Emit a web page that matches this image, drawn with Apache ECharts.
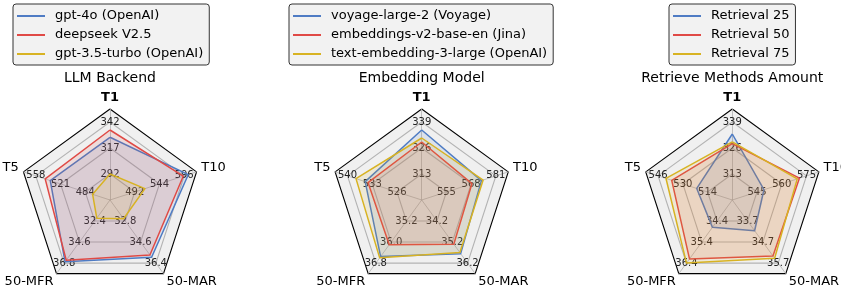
<!DOCTYPE html>
<html>
<head>
<meta charset="UTF-8">
<title>radar</title>
<script src="https://cdn.jsdelivr.net/npm/echarts@6/dist/echarts.min.js"></script>
<style>
    body { margin: 0; padding: 0; background: #fff; }
    #main { width: 841px; height: 293px; }
</style>
</head>
<body>
<div id="main"></div>
<script>
// axes in echarts order (counter-clockwise from the top)
const axisNames = ['T1', 'T5', '50-MFR', '50-MAR', 'T10'];
const panelTitles = ['LLM Backend', 'Embedding Model', 'Retrieve Methods Amount'];
const lineColors = ['#4f7cc4', '#e04a46', '#d8b323'];

// panel 1
const llmNames = ['gpt-4o (OpenAI)', 'deepseek V2.5', 'gpt-3.5-turbo (OpenAI)'];
const llmTicks = [[292, 317, 342], [484, 521, 558], [32.4, 34.6, 36.8], [32.8, 34.6, 36.4], [492, 544, 596]];
const llmGpt4o = [327.3, 536.4, 36.67, 35.9, 604.7];
const llmDeepseek = [334.3, 544, 36.5, 35.7, 594];
const llmGpt35 = [292, 473, 32.1, 32.6, 513.5];

// panel 2
const embNames = ['voyage-large-2 (Voyage)', 'embeddings-v2-base-en (Jina)', 'text-embedding-3-large (OpenAI)'];
const embTicks = [[313, 326, 339], [526, 533, 540], [35.2, 36.0, 36.8], [34.2, 35.2, 36.2], [555, 568, 581]];
const embVoyage = [335, 535, 36.55, 35.75, 573.4];
const embJina = [329, 534.2, 36.1, 35.3, 568.4];
const embOpenai = [331, 537.6, 36.6, 35.7, 574.3];

// panel 3
const retNames = ['Retrieval 25', 'Retrieval 50', 'Retrieval 75'];
const retTicks = [[313, 326, 339], [514, 530, 546], [34.4, 35.4, 36.4], [33.7, 34.7, 35.7], [545, 560, 575]];
const ret25 = [333, 521, 34.7, 34.16, 549.2];
const ret50 = [328.2, 537.2, 36.2, 35.36, 570.7];
const ret75 = [329.1, 540.9, 36.4, 35.47, 569.4];

const panels = [
    {names: llmNames, ticks: llmTicks, values: [llmGpt4o, llmDeepseek, llmGpt35], cx: 110, legendLeft: 13},
    {names: embNames, ticks: embTicks, values: [embVoyage, embJina, embOpenai], cx: 421.7, legendLeft: 289},
    {names: retNames, ticks: retTicks, values: [ret25, ret50, ret75], cx: 732.3, legendLeft: 669}
];

const FONT = 'DejaVu Sans';
const SPLIT = 7;

function fmtTick(value, index) {
    if (index !== 2 && index !== 4 && index !== 6) return '';
    return value < 100 ? value.toFixed(1) : Math.round(value).toString();
}

// nudge axis names a bit like matplotlib places them
function fmtName(name) {
    if (name === 'T1') return '{b|' + name + '}';
    if (name === '50-MFR' || name === '50-MAR') return '{low|' + name + '}';
    return '{side|' + name + '}';
}

const chart = echarts.init(document.getElementById('main'), null, {renderer: 'canvas'});

const option = {
    animation: false,
    textStyle: {fontFamily: FONT},
    title: [],
    legend: [],
    radar: [],
    series: []
};

panels.forEach(function (p, k) {
    option.title.push({
        text: panelTitles[k],
        left: p.cx,
        top: 71,
        padding: 0,
        textAlign: 'center',
        textStyle: {fontFamily: FONT, fontSize: 14, fontWeight: 'normal', color: '#000'}
    });
    option.legend.push({
        data: p.names,
        orient: 'vertical',
        left: p.legendLeft,
        top: 4,
        icon: 'rect',
        itemWidth: 28,
        itemHeight: 2,
        itemGap: 3,
        padding: [4, 6, 3, 4],
        selectedMode: false,
        backgroundColor: '#f2f2f2',
        borderColor: '#333',
        borderWidth: 1,
        borderRadius: 3,
        textStyle: {fontFamily: FONT, fontSize: 13, color: '#000', lineHeight: 16, padding: [0, 0, 0, 5]}
    });
    option.radar.push({
        center: [p.cx, 200],
        radius: 91,
        startAngle: 90,
        shape: 'polygon',
        splitNumber: SPLIT,
        nameGap: 5,
        indicator: axisNames.map(function (n, i) {
            const t = p.ticks[i];
            const step = (t[1] - t[0]) / 2;
            return {name: n, min: t[0] - 2 * step, max: t[0] + 5 * step};
        }),
        axisName: {
            color: '#000',
            fontFamily: FONT,
            fontSize: 13,
            formatter: fmtName,
            rich: {
                b: {fontWeight: 'bold', fontSize: 13, fontFamily: FONT, color: '#000'},
                low: {fontSize: 13, fontFamily: FONT, color: '#000', padding: [7, 0, 0, 0]},
                side: {fontSize: 13, fontFamily: FONT, color: '#000', padding: [0, 0, 6, 0]}
            }
        },
        axisLine: {show: true, lineStyle: {color: '#b3b3b3', width: 0.8}},
        axisTick: {show: false},
        axisLabel: {
            show: true,
            margin: 0,
            align: 'center',
            verticalAlign: 'middle',
            fontFamily: FONT,
            fontSize: 10,
            color: '#222',
            formatter: fmtTick
        },
        splitLine: {
            show: true,
            lineStyle: {
                color: ['transparent', 'transparent', '#b3b3b3', 'transparent', '#b3b3b3', 'transparent', '#b3b3b3', '#000'],
                width: 1.1
            }
        },
        splitArea: {show: true, areaStyle: {color: ['#f0f0f0']}}
    });
    option.series.push({
        type: 'radar',
        radarIndex: k,
        symbol: 'none',
        data: p.values.map(function (v, j) {
            return {
                name: p.names[j],
                value: v,
                itemStyle: {color: lineColors[j]},
                lineStyle: {color: lineColors[j], width: 1.5},
                areaStyle: {color: lineColors[j], opacity: 0.13}
            };
        })
    });
});

chart.setOption(option);
</script>
</body>
</html>
